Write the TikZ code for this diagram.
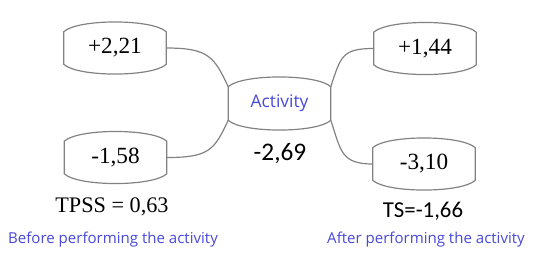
\documentclass[tikz,border=0pt]{standalone}
\usepackage{fontspec}
\setmainfont{Liberation Serif}
\newfontfamily\calibrifont{Carlito}
\newfontfamily\uifont{Open Sans}
\usetikzlibrary{calc}
\definecolor{boxgray}{RGB}{130,130,130}
\definecolor{labelblue}{RGB}{72,72,220}

\begin{document}
\begin{tikzpicture}[x=0.025cm, y=-0.025cm,
        valbox/.style={minimum width=2.55cm, minimum height=0.8cm, inner sep=0pt,
            font=\fontsize{16.5}{19}\selectfont},
        edge/.style={draw=boxgray, line width=0.85pt},
        bluetext/.style={text=labelblue, font=\uifont\fontsize{10.7}{12}\selectfont}]
        \useasboundingbox (0,0) rectangle (537,266);

        % Value boxes
        \node[valbox] (pre) at (115,48) {+2,21};
        \node[valbox] (neg) at (115.5,157.5) {-1,58};
        \node[valbox] (post) at (425,48.5) {+1,44};
        \node[valbox] (fin) at (424,164) {-3,10};

        % Activity box
        \node[valbox, minimum height=0.825cm, text=labelblue,
            font=\uifont\fontsize{12.4}{14}\selectfont] (act) at (279.5,103.5) {Activity};

        % Outlines
        \foreach \n in {pre,neg,act,post,fin}
            \draw[edge] (\n.north west) .. controls +(14,-13) and +(-14,-13) .. (\n.north east)
                -- (\n.south east) .. controls +(-14,13) and +(14,13) .. (\n.south west) -- cycle;

        % Connectors
        \draw[edge] (pre.east) .. controls +(42,0) and +(-14,-30) .. (act.north west);
        \draw[edge] (neg.east) .. controls +(42,0) and +(-14,30) .. (act.south west);
        \draw[edge] (act.north east) .. controls +(10,-30) and +(-32,0) .. (post.west);
        \draw[edge] (act.south east) .. controls +(10,30) and +(-32,0) .. (fin.west);

        % Scores
        \node[font=\fontsize{15.8}{18}\selectfont] (tpss) at (112,207) {TPSS = 0,63};
        \node[font=\calibrifont\fontsize{18}{21}\selectfont] (diff) at (280,154) {-2,69};
        \node[font=\calibrifont\fontsize{16.2}{19}\selectfont] (ts) at (423,211) {TS=-1,66};

        % Captions
        \node[bluetext] (before) at (113,240) {Before performing the activity};
        \node[bluetext] (after) at (426,240) {After performing the activity};
    \end{tikzpicture}
\end{document}
